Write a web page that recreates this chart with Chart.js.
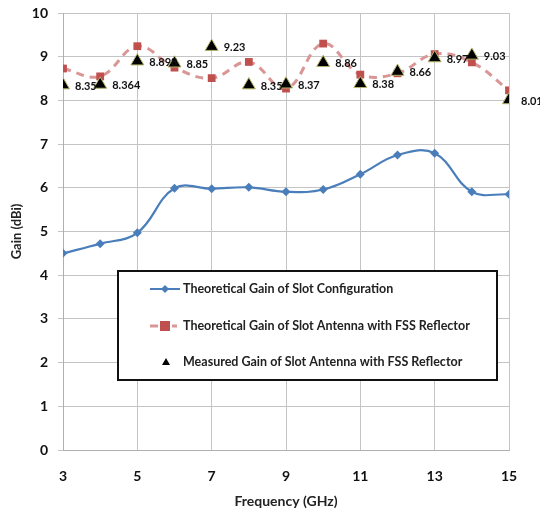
<!DOCTYPE html>
<html><head><meta charset="utf-8">
<script src="https://cdn.jsdelivr.net/npm/chart.js@4.4.1/dist/chart.umd.min.js"></script>
<style>html,body{margin:0;padding:0;background:#fff}#wrap{width:540px;height:513px;position:relative}</style>
</head><body><div id="wrap"><canvas id="c" width="540" height="513"></canvas></div>
<script>
const frequencies = [3,4,5,6,7,8,9,10,11,12,13,14,15];
const slotGain = [4.5,4.72,4.97,5.99,5.98,6.01,5.91,5.96,6.31,6.75,6.79,5.91,5.85];
const fssTheoryGain = [8.73,8.55,9.24,8.75,8.51,8.88,8.27,9.3,8.59,8.62,9.06,8.87,8.23];
const fssMeasuredGain = [8.35,8.364,8.898,8.85,9.23,8.35,8.37,8.86,8.38,8.66,8.97,9.03,8.01];
const measuredLabels = ["8.35","8.364","8.898","8.85","9.23","8.35","8.37","8.86","8.38","8.66","8.97","9.03","8.01"];
const seriesNames = ["Theoretical Gain of Slot Configuration","Theoretical Gain of Slot Antenna with FSS Reflector","Measured Gain of Slot Antenna with FSS Reflector"];
const xTicks = [3,5,7,9,11,13,15];
const yTicks = [0,1,2,3,4,5,6,7,8,9,10];

const FONT = "Lato, 'Open Sans', sans-serif";
const toXY = (ys) => frequencies.map((x,i)=>({x:x,y:ys[i]}));

const labelPlugin = {
  id:'measLabels',
  afterDatasetsDraw(chart){
    const ctx = chart.ctx;
    const meta = chart.getDatasetMeta(2);
    ctx.save();
    ctx.font = "bold 11px " + FONT;
    ctx.fillStyle = "#111";
    ctx.textBaseline = "middle";
    ctx.textAlign = "left";
    meta.data.forEach((pt,i)=>{
      ctx.fillText(measuredLabels[i], pt.x + 12, pt.y + 1);
    });
    ctx.restore();
  }
};

const legendPlugin = {
  id:'boxLegend',
  afterDraw(chart){
    const ctx = chart.ctx;
    const L=118, T=271, R=497, B=380;
    ctx.save();
    ctx.fillStyle = "#fff";
    ctx.fillRect(L,T,R-L,B-T);
    ctx.lineWidth = 2;
    ctx.strokeStyle = "#111";
    ctx.strokeRect(L,T,R-L,B-T);
    const rows = [289,326,362];
    const tx = 183;
    ctx.font = "bold 12.5px " + FONT;
    ctx.fillStyle = "#222";
    ctx.textBaseline = "middle";
    rows.forEach((y,i)=>{ ctx.fillText(seriesNames[i], tx, y); });
    ctx.strokeStyle = "#4a7ebb"; ctx.lineWidth = 2; ctx.setLineDash([]);
    ctx.beginPath(); ctx.moveTo(150,rows[0]); ctx.lineTo(180,rows[0]); ctx.stroke();
    ctx.fillStyle = "#4a7ebb";
    ctx.beginPath(); ctx.moveTo(165,rows[0]-4); ctx.lineTo(169,rows[0]); ctx.lineTo(165,rows[0]+4); ctx.lineTo(161,rows[0]); ctx.closePath(); ctx.fill();
    ctx.strokeStyle = "#d99694"; ctx.lineWidth = 3;
    ctx.beginPath(); ctx.moveTo(150,rows[1]); ctx.lineTo(158,rows[1]); ctx.stroke();
    ctx.beginPath(); ctx.moveTo(172,rows[1]); ctx.lineTo(177,rows[1]); ctx.stroke();
    ctx.fillStyle = "#c0504d";
    ctx.fillRect(160,rows[1]-5,10,10);
    ctx.fillStyle = "#000";
    ctx.beginPath(); ctx.moveTo(166,rows[2]-4); ctx.lineTo(170,rows[2]+3); ctx.lineTo(162,rows[2]+3); ctx.closePath(); ctx.fill();
    ctx.restore();
  }
};

new Chart(document.getElementById('c'), {
  type:'line',
  data:{
    datasets:[
      {label:seriesNames[0], data:toXY(slotGain), borderColor:'#4a7ebb', backgroundColor:'#4a7ebb', borderWidth:2.2, tension:0.4, pointStyle:'rectRot', pointRadius:4.5, pointBorderWidth:0, order:3},
      {label:seriesNames[1], data:toXY(fssTheoryGain), borderColor:'#d99694', backgroundColor:'#c0504d', borderWidth:3, borderDash:[8,6], tension:0.4, pointStyle:'rect', pointRadius:5.5, pointBorderWidth:0, order:2},
      {label:seriesNames[2], data:toXY(fssMeasuredGain), showLine:false, backgroundColor:'#000', borderColor:'#b5b56a', borderWidth:1, pointStyle:'triangle', pointRadius:7.5, order:1}
    ]
  },
  options:{
    responsive:false, animation:false, devicePixelRatio:1,
    layout:{padding:{top:13,right:31,left:0,bottom:0}},
    plugins:{legend:{display:false}, tooltip:{enabled:false}},
    scales:{
      x:{type:'linear', min:3, max:15,
        afterBuildTicks(s){ s.ticks = xTicks.map(v=>({value:v})); },
        afterFit(s){ s.height = 63; s.paddingLeft = 0; s.paddingRight = 0; },
        grid:{color:'#c4c4c4', lineWidth:1, drawTicks:false},
        border:{color:'#b0b0b0'},
        ticks:{padding:18, color:'#111', font:{family:FONT, size:14, weight:'bold'}},
        title:{display:true, text:'Frequency (GHz)', color:'#222', font:{family:FONT, size:14, weight:'bold'}, padding:{top:0,bottom:3}}
      },
      y:{min:0, max:10,
        afterBuildTicks(s){ s.ticks = yTicks.map(v=>({value:v})); },
        afterFit(s){ s.width = 63; s.paddingTop = 0; s.paddingBottom = 0; },
        grid:{color:'#c4c4c4', lineWidth:1, tickLength:5},
        border:{color:'#b0b0b0'},
        ticks:{padding:10, color:'#111', font:{family:FONT, size:14, weight:'bold'}},
        title:{display:true, text:'Gain (dBi)', color:'#222', font:{family:FONT, size:13, weight:'bold'}, padding:{top:9,bottom:0}}
      }
    }
  },
  plugins:[labelPlugin, legendPlugin]
});
</script></body></html>
